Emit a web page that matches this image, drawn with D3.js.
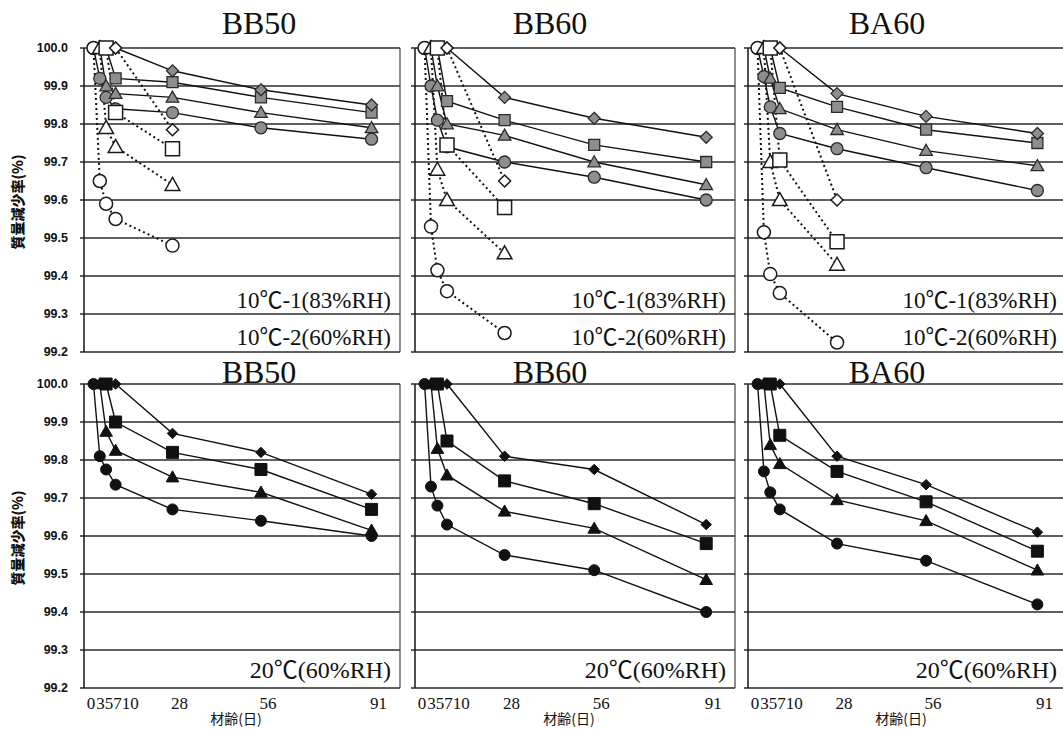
<!DOCTYPE html>
<html>
<head>
<meta charset="utf-8">
<script src="https://cdn.jsdelivr.net/npm/d3@7"></script>
<style>
  body { margin: 0; background: #fff; }
  svg { display: block; }
</style>
</head>
<body>
<svg id="chart" width="1063" height="729"></svg>
<script>
// Measurement ages (days); a series starts at 100 % on its demoulding day.
const ageDays = [3, 5, 7, 10, 28, 56, 91];
const xTicks = [0, 3, 5, 7, 10, 28, 56, 91];
const yTicks = [99.2, 99.3, 99.4, 99.5, 99.6, 99.7, 99.8, 99.9, 100.0];
const mixes = ["BB50", "BB60", "BA60"];
const shapes = ["circle", "triangle", "square", "diamond"];
const curing10Labels = ["10℃-1(83%RH)", "10℃-2(60%RH)"];
const curing20Label = "20℃(60%RH)";
const yTitle = "質量減少率(%)";
const xTitle = "材齢(日)";

// Mass retention (%) — rows: circle, triangle, square, diamond; columns follow ageDays.
const BB50_10C1 = [
  [100, 99.92, 99.87, 99.84, 99.83, 99.79, 99.76],
  [null, 100, 99.90, 99.88, 99.87, 99.83, 99.79],
  [null, null, 100, 99.92, 99.91, 99.87, 99.83],
  [null, null, null, 100, 99.94, 99.89, 99.85]
];
const BB50_10C2 = [
  [100, 99.65, 99.59, 99.55, 99.48, null, null],
  [null, 100, 99.79, 99.74, 99.64, null, null],
  [null, null, 100, 99.83, 99.735, null, null],
  [null, null, null, 100, 99.785, null, null]
];
const BB60_10C1 = [
  [100, 99.90, 99.81, 99.74, 99.70, 99.66, 99.60],
  [null, 100, 99.90, 99.80, 99.77, 99.70, 99.64],
  [null, null, 100, 99.86, 99.81, 99.745, 99.70],
  [null, null, null, 100, 99.87, 99.815, 99.765]
];
const BB60_10C2 = [
  [100, 99.53, 99.415, 99.36, 99.25, null, null],
  [null, 100, 99.68, 99.60, 99.46, null, null],
  [null, null, 100, 99.745, 99.58, null, null],
  [null, null, null, 100, 99.65, null, null]
];
const BA60_10C1 = [
  [100, 99.925, 99.845, 99.775, 99.735, 99.685, 99.625],
  [null, 100, 99.92, 99.84, 99.785, 99.73, 99.69],
  [null, null, 100, 99.895, 99.845, 99.785, 99.75],
  [null, null, null, 100, 99.88, 99.82, 99.775]
];
const BA60_10C2 = [
  [100, 99.515, 99.405, 99.355, 99.225, null, null],
  [null, 100, 99.70, 99.60, 99.43, null, null],
  [null, null, 100, 99.705, 99.49, null, null],
  [null, null, null, 100, 99.60, null, null]
];
const BB50_20C = [
  [100, 99.81, 99.775, 99.735, 99.67, 99.64, 99.60],
  [null, 100, 99.875, 99.825, 99.755, 99.715, 99.615],
  [null, null, 100, 99.90, 99.82, 99.775, 99.67],
  [null, null, null, 100, 99.87, 99.82, 99.71]
];
const BB60_20C = [
  [100, 99.73, 99.68, 99.63, 99.55, 99.51, 99.40],
  [null, 100, 99.83, 99.76, 99.665, 99.62, 99.485],
  [null, null, 100, 99.85, 99.745, 99.685, 99.58],
  [null, null, null, 100, 99.81, 99.775, 99.63]
];
const BA60_20C = [
  [100, 99.77, 99.715, 99.67, 99.58, 99.535, 99.42],
  [null, 100, 99.84, 99.79, 99.695, 99.64, 99.51],
  [null, null, 100, 99.865, 99.77, 99.69, 99.56],
  [null, null, null, 100, 99.81, 99.735, 99.61]
];

// ---- layout ----
const svg = d3.select("#chart");
const colLeft = [84, 415, 748];
const colWidth = [316, 320, 318];
const titleDx = [175, 135, 139];
const rowTop = [48, 384];
const plotH = 304;
const serif = "'Liberation Serif', 'Times New Roman', 'Noto Sans CJK JP', serif";
const cjk = "'Noto Sans CJK JP', 'Noto Sans', sans-serif";

// marker outline generators, s = nominal pixel size
function markerPath(shape, s) {
  const p = d3.path(), h = s / 2;
  if (shape === "circle") { p.arc(0, 0, h, 0, 2 * Math.PI); }
  else if (shape === "square") { p.rect(-h, -h, s, s); }
  else if (shape === "triangle") {
    p.moveTo(0, -h * 1.05); p.lineTo(h * 1.05, h * 0.8); p.lineTo(-h * 1.05, h * 0.8); p.closePath();
  } else {
    p.moveTo(0, -h); p.lineTo(h, 0); p.lineTo(0, h); p.lineTo(-h, 0); p.closePath();
  }
  return p.toString();
}

const styles = {
  grey:  { fill: "#8e8e8e", stroke: "#2a2a2a", sw: 1.3, dash: null, sizes: { circle: 12, triangle: 12, square: 11, diamond: 12 } },
  open:  { fill: "#ffffff", stroke: "#1a1a1a", sw: 1.5, dash: "2,3", sizes: { circle: 13, triangle: 14, square: 14, diamond: 12 } },
  black: { fill: "#111111", stroke: "#111111", sw: 1, dash: null, sizes: { circle: 11, triangle: 12, square: 12, diamond: 10.5 } }
};

const panels = [
  { row: 0, col: 0, groups: [[BB50_10C1, "grey"], [BB50_10C2, "open"]] },
  { row: 0, col: 1, groups: [[BB60_10C1, "grey"], [BB60_10C2, "open"]] },
  { row: 0, col: 2, groups: [[BA60_10C1, "grey"], [BA60_10C2, "open"]] },
  { row: 1, col: 0, groups: [[BB50_20C, "black"]] },
  { row: 1, col: 1, groups: [[BB60_20C, "black"]] },
  { row: 1, col: 2, groups: [[BA60_20C, "black"]] }
];

panels.forEach(pn => {
  const x0 = colLeft[pn.col], w = colWidth[pn.col], top = rowTop[pn.row];
  const x = d3.scaleLinear().domain([0, 100]).range([x0, x0 + w]);
  const y = d3.scaleLinear().domain([99.2, 100]).range([top + plotH, top]);
  const g = svg.append("g");

  // horizontal grid with small left ticks
  g.selectAll("line.grid").data(yTicks).join("line")
    .attr("x1", x0 - 4).attr("x2", x0 + w)
    .attr("y1", d => y(d)).attr("y2", d => y(d))
    .attr("stroke", "#2b2b2b").attr("stroke-width", 1.6);
  // frame
  g.append("line").attr("x1", x0).attr("x2", x0).attr("y1", top).attr("y2", top + plotH)
    .attr("stroke", "#222").attr("stroke-width", 1.6);
  g.append("line").attr("x1", x0 + w).attr("x2", x0 + w).attr("y1", top).attr("y2", top + plotH)
    .attr("stroke", "#444").attr("stroke-width", 1.2);

  // y tick labels on the left column only
  if (pn.col === 0) {
    g.selectAll("text.ytick").data(yTicks).join("text")
      .attr("x", x0 - 16).attr("y", d => y(d)).attr("dy", "0.35em")
      .attr("text-anchor", "end")
      .attr("font-family", "'Liberation Sans', Arial, sans-serif")
      .attr("font-weight", "bold").attr("font-size", 12.5).attr("fill", "#111")
      .text(d => d.toFixed(1));
    g.append("text")
      .attr("transform", `translate(18,${top + plotH / 2 + 2}) rotate(-90)`)
      .attr("text-anchor", "middle").attr("dy", "0.35em")
      .attr("font-family", cjk).attr("font-weight", 900).attr("font-size", 14)
      .attr("fill", "#111").text(yTitle);
  }

  // series: all connecting lines first, markers on top
  const line = d3.line().x(d => x(d.day)).y(d => y(d.v));
  const all = [];
  pn.groups.forEach(([rows, key]) => {
    rows.forEach((vals, i) => {
      const pts = ageDays.map((day, j) => ({ day, v: vals[j] })).filter(d => d.v != null);
      all.push({ pts, shape: shapes[i], st: styles[key] });
    });
  });
  all.forEach(s => {
    g.append("path").attr("d", line(s.pts)).attr("fill", "none")
      .attr("stroke", "#111").attr("stroke-width", s.st.dash ? 2 : 1.4)
      .attr("stroke-dasharray", s.st.dash);
  });
  all.forEach(s => {
    g.selectAll(null).data(s.pts).join("path")
      .attr("transform", d => `translate(${x(d.day)},${y(d.v)})`)
      .attr("d", markerPath(s.shape, s.st.sizes[s.shape]))
      .attr("fill", s.st.fill).attr("stroke", s.st.stroke).attr("stroke-width", s.st.sw);
  });

  // titles
  g.append("text")
    .attr("x", x0 + titleDx[pn.col]).attr("y", pn.row === 0 ? 34 : 383)
    .attr("text-anchor", "middle").attr("font-family", serif)
    .attr("font-size", 32).attr("fill", "#111").text(mixes[pn.col]);

  // curing condition labels
  if (pn.row === 0) {
    [308, 345].forEach((by, k) => {
      g.append("text").attr("x", x0 + w - 9).attr("y", by)
        .attr("text-anchor", "end").attr("font-family", serif)
        .attr("font-size", 23).attr("fill", "#111").text(curing10Labels[k]);
    });
  } else {
    g.append("text").attr("x", x0 + w - 9).attr("y", 678)
      .attr("text-anchor", "end").attr("font-family", serif)
      .attr("font-size", 24).attr("fill", "#111").text(curing20Label);

    // x tick labels, pushed apart where the early ages crowd together
    let prevRight = -Infinity;
    g.selectAll("text.xtick").data(xTicks).join("text")
      .attr("y", 709).attr("font-family", serif).attr("font-size", 17).attr("fill", "#111")
      .text(d => d)
      .each(function (d) {
        const tw = this.getComputedTextLength();
        let left = x(d) + 7 - tw / 2;
        if (left < prevRight) left = prevRight;
        d3.select(this).attr("x", left);
        prevRight = left + tw;
      });
    g.append("text").attr("x", x0 + w / 2 - 6).attr("y", 724)
      .attr("text-anchor", "middle").attr("font-family", cjk)
      .attr("font-size", 14).attr("fill", "#111").text(xTitle);
  }
});
</script>
</body>
</html>
